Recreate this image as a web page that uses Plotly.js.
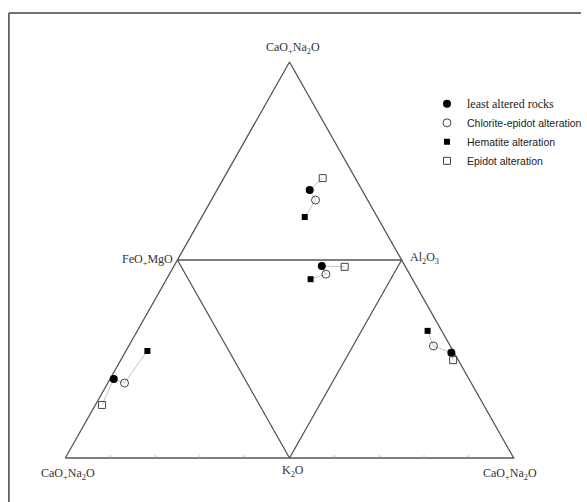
<!DOCTYPE html>
<html>
<head>
<meta charset="utf-8">
<script src="https://cdn.plot.ly/plotly-3.0.1.min.js"></script>
<style>html,body{margin:0;padding:0;background:#fff;} #chart{width:587px;height:502px;}</style>
</head>
<body>
<div id="chart"></div>
<script>
// Diagram coordinates: base of outer triangle from 0 to 100, apex at (50, 86.6)
const outerX = [0, 100, 50, 0];
const outerY = [0, 0, 86.6, 0];
const innerX = [25, 75, 50, 25];
const innerY = [43.3, 43.3, 0, 43.3];

const seriesNames = ["least altered rocks", "Chlorite-epidot alteration", "Hematite alteration", "Epidot alteration"];

// point positions per sub-diagram (top, middle, left, right)
const leastX = [54.5, 57.2, 10.8, 86.1];
const leastY = [58.6, 42.0, 17.3, 23.0];
const chloriteX = [55.8, 58.1, 13.2, 82.1];
const chloriteY = [56.4, 40.2, 16.4, 24.5];
const hematiteX = [53.4, 54.7, 18.3, 80.8];
const hematiteY = [52.7, 39.1, 23.4, 27.8];
const epidotX = [57.4, 62.3, 8.2, 86.5];
const epidotY = [61.2, 41.8, 11.6, 21.4];

const baseTicks = [10, 20, 30, 40, 60, 70, 80, 90];

const traces = [];
const lineStyle = {color: '#555', width: 1.3};
traces.push({x: outerX, y: outerY, mode: 'lines', line: lineStyle, showlegend: false, hoverinfo: 'skip'});
traces.push({x: innerX, y: innerY, mode: 'lines', line: lineStyle, showlegend: false, hoverinfo: 'skip'});

// tie lines linking each group's points
for (let i = 0; i < leastX.length; i++) {
  const tx = [epidotX[i], leastX[i], chloriteX[i], hematiteX[i]];
  const ty = [epidotY[i], leastY[i], chloriteY[i], hematiteY[i]];
  traces.push({x: tx, y: ty, mode: 'lines', line: {color: '#c4c4c4', width: 1}, showlegend: false, hoverinfo: 'skip'});
}
// base ticks
const tickX = [], tickY = [];
baseTicks.forEach(t => { tickX.push(t, t, null); tickY.push(0, 0.6, null); });
traces.push({x: tickX, y: tickY, mode: 'lines', line: {color: '#aaa', width: 1}, showlegend: false, hoverinfo: 'skip'});

traces.push({x: leastX, y: leastY, mode: 'markers', name: '<span style="font-family:Liberation Serif;font-size:12px">' + seriesNames[0] + '</span>',
  marker: {symbol: 'circle', size: 8, color: '#000'}});
traces.push({x: chloriteX, y: chloriteY, mode: 'markers', name: seriesNames[1],
  marker: {symbol: 'circle-open', size: 8, color: '#444', line: {width: 1}}});
traces.push({x: hematiteX, y: hematiteY, mode: 'markers', name: seriesNames[2],
  marker: {symbol: 'square', size: 6, color: '#000'}});
traces.push({x: epidotX, y: epidotY, mode: 'markers', name: seriesNames[3],
  marker: {symbol: 'square-open', size: 7, color: '#444', line: {width: 1}}});

const labFont = {family: 'Liberation Serif', size: 12, color: '#333'};
const annotations = [
  {x: 50, y: 86.6, text: 'CaO<sub>+</sub>Na<sub>2</sub>O', xanchor: 'center', yanchor: 'bottom', yshift: 4, xshift: 3},
  {x: 25, y: 43.3, text: 'FeO<sub>+</sub>MgO', xanchor: 'right', yanchor: 'middle', xshift: -2},
  {x: 75, y: 43.3, text: 'Al<sub>2</sub>O<sub>3</sub>', xanchor: 'left', yanchor: 'middle', xshift: 6, yshift: 2},
  {x: 0, y: 0, text: 'CaO<sub>+</sub>Na<sub>2</sub>O', xanchor: 'center', yanchor: 'top', yshift: -6, xshift: 3},
  {x: 50, y: 0, text: 'K<sub>2</sub>O', xanchor: 'center', yanchor: 'top', yshift: -3, xshift: 3},
  {x: 100, y: 0, text: 'CaO<sub>+</sub>Na<sub>2</sub>O', xanchor: 'center', yanchor: 'top', yshift: -6, xshift: -4}
].map(a => Object.assign({xref: 'x', yref: 'y', showarrow: false, font: labFont}, a));

const layout = {
  width: 587, height: 502,
  margin: {l: 0, r: 0, t: 0, b: 0},
  paper_bgcolor: '#fff', plot_bgcolor: '#fff',
  xaxis: {range: [-66/4.53, (587-66)/4.53], visible: false, fixedrange: true},
  yaxis: {range: [-44/4.573, 458/4.573], visible: false, fixedrange: true},
  showlegend: true,
  legend: {x: 0.735, y: 0.822, xanchor: 'left', yanchor: 'top', bgcolor: 'rgba(0,0,0,0)',
    font: {family: 'Liberation Sans', size: 10.5, color: '#222'}, itemwidth: 30, tracegroupgap: 0},
  annotations: annotations,
  shapes: [
    {type: 'line', xref: 'paper', yref: 'paper', x0: 9/587, x1: 9/587, y0: 0, y1: 1 - 13/502, line: {color: '#444', width: 1.5}},
    {type: 'line', xref: 'paper', yref: 'paper', x0: 9/587, x1: 1, y0: 1 - 13/502, y1: 1 - 13/502, line: {color: '#444', width: 1.5}}
  ]
};

Plotly.newPlot('chart', traces, layout, {displayModeBar: false, staticPlot: true});
</script>
</body>
</html>
